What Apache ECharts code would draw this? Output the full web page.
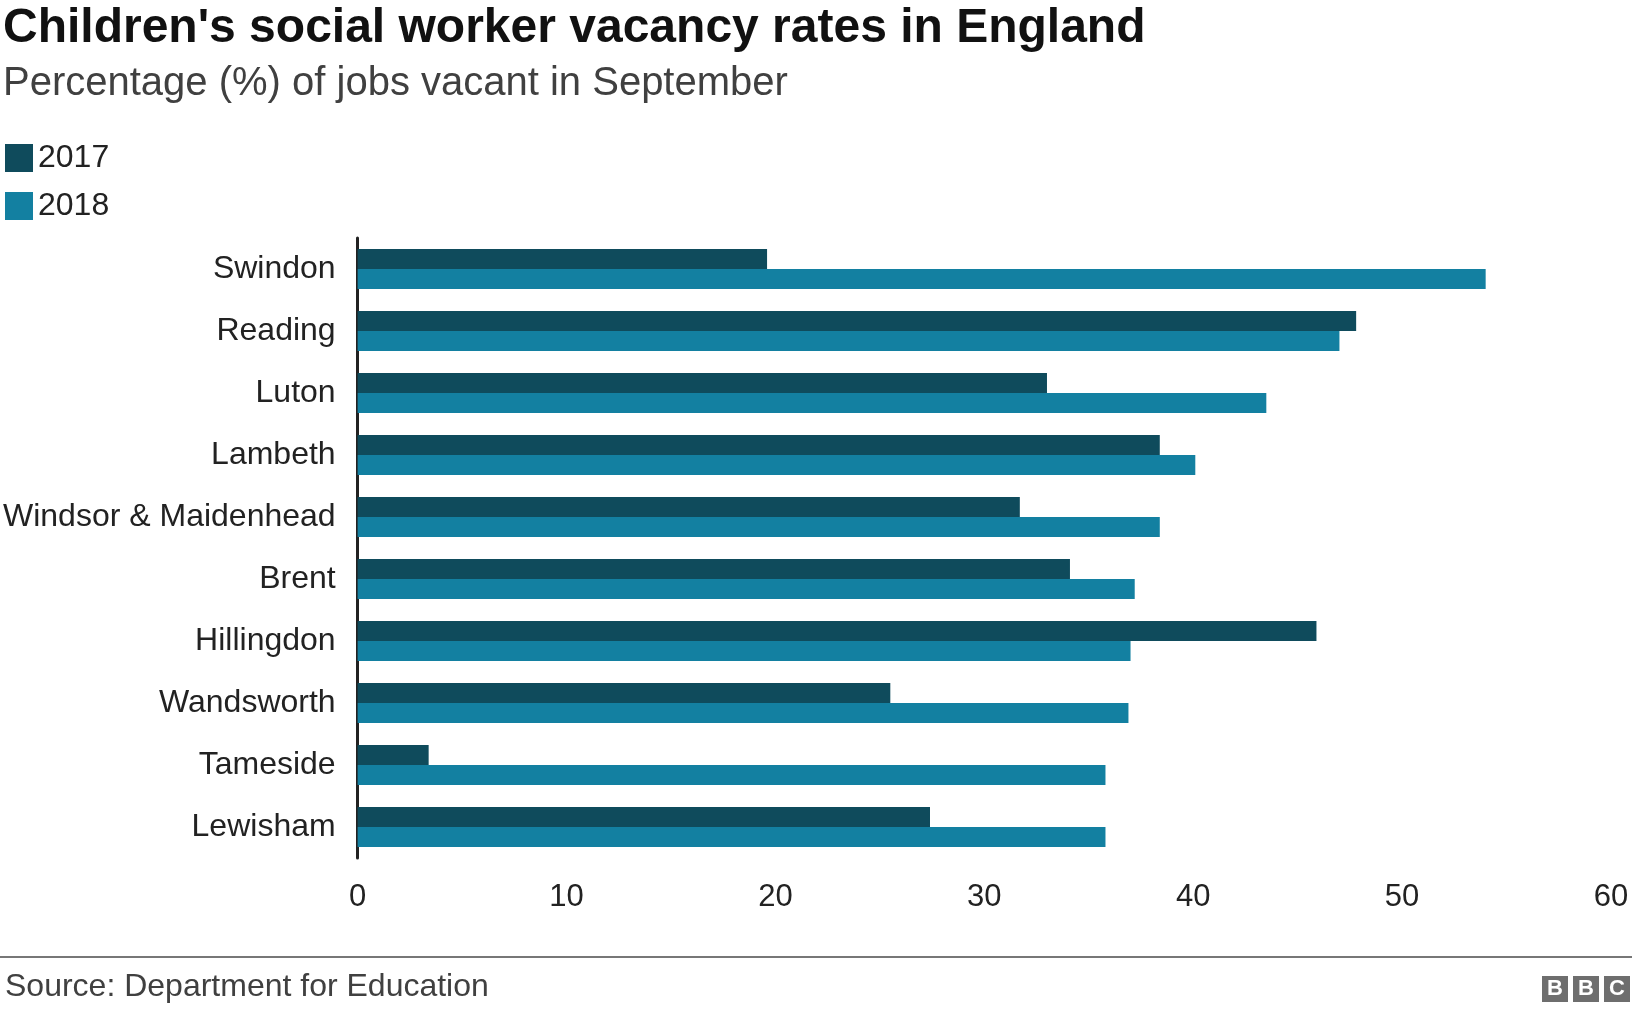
<!DOCTYPE html>
<html><head><meta charset="utf-8">
<script src="https://cdn.jsdelivr.net/npm/echarts@6/dist/echarts.min.js"></script>
<style>html,body{margin:0;padding:0;background:#fff}#c{width:1632px;height:1012px}</style>
</head><body><div id="c"></div>
<script>
const categories = ['Swindon','Reading','Luton','Lambeth','Windsor & Maidenhead','Brent','Hillingdon','Wandsworth','Tameside','Lewisham'];
const values2017 = [19.6,47.8,33.0,38.4,31.7,34.1,45.9,25.5,3.4,27.4];
const values2018 = [54.0,47.0,43.5,40.1,38.4,37.2,37.0,36.9,35.8,35.8];
const xTicks = [0,10,20,30,40,50,60];
const F = '"Liberation Sans", Arial, sans-serif';
const chart = echarts.init(document.getElementById('c'));
chart.setOption({
  animation:false,
  textStyle:{fontFamily:F},
  title:[
    {text:"Children's social worker vacancy rates in England",left:-2,top:0,textStyle:{fontFamily:F,fontSize:48,fontWeight:'bold',color:'#111'}},
    {text:'Percentage (%) of jobs vacant in September',left:-2,top:59,textStyle:{fontFamily:F,fontSize:40,fontWeight:'normal',color:'#404040'}},
    {text:'Source: Department for Education',left:0,top:966,textStyle:{fontFamily:F,fontSize:32,fontWeight:'normal',color:'#404040'}}
  ],
  legend:{left:0,top:137,orient:'vertical',itemWidth:28,itemHeight:28,itemGap:16,icon:'rect',
    textStyle:{fontFamily:F,fontSize:32,color:'#222',padding:[0,0,0,0]},data:['2017','2018']},
  grid:{left:356,right:21,top:238,bottom:154,containLabel:false},
  xAxis:{type:'value',min:0,max:60,interval:10,
    axisLine:{show:false},axisTick:{show:false},splitLine:{show:false},
    axisLabel:{fontFamily:F,fontSize:31,color:'#222',margin:24,
      formatter:v=>xTicks.includes(v)?String(v):''}},
  yAxis:{type:'category',inverse:true,data:categories,
    axisLine:{show:true,lineStyle:{color:'#222',width:3}},axisTick:{show:false},
    axisLabel:{fontFamily:F,fontSize:32,color:'#222',margin:22}},
  series:[
    {name:'2017',type:'bar',data:values2017,barWidth:20,barGap:'0%',itemStyle:{color:'#0f4b5c'}},
    {name:'2018',type:'bar',data:values2018,barWidth:20,barGap:'0%',itemStyle:{color:'#1380a1'}}
  ],
  graphic:[
    {type:'line',shape:{x1:0,y1:957,x2:1632,y2:957},style:{stroke:'#777',lineWidth:2}},
    {type:'rect',shape:{x:1542,y:976,width:26,height:26},style:{fill:'#6e6e6e'}},
    {type:'rect',shape:{x:1573,y:976,width:26,height:26},style:{fill:'#6e6e6e'}},
    {type:'rect',shape:{x:1604,y:976,width:26,height:26},style:{fill:'#6e6e6e'}},
    {type:'text',x:1555,y:989,style:{text:'B',fill:'#fff',font:'bold 22px '+F,align:'center',verticalAlign:'middle'}},
    {type:'text',x:1586,y:989,style:{text:'B',fill:'#fff',font:'bold 22px '+F,align:'center',verticalAlign:'middle'}},
    {type:'text',x:1617,y:989,style:{text:'C',fill:'#fff',font:'bold 22px '+F,align:'center',verticalAlign:'middle'}}
  ]
});
</script></body></html>
